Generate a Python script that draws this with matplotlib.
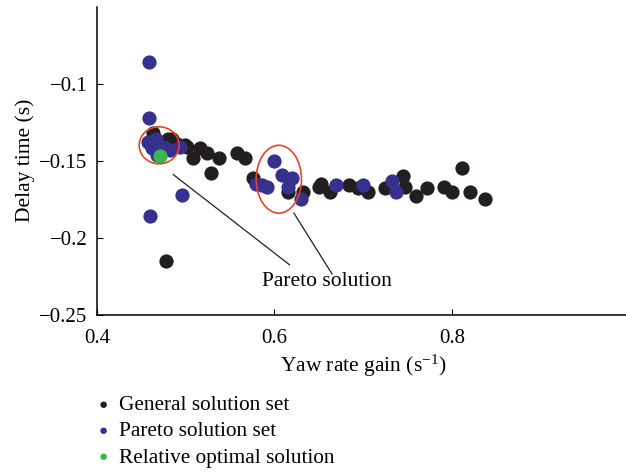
import matplotlib
matplotlib.use("Agg")
import matplotlib.pyplot as plt
from matplotlib.patches import Ellipse

plt.rcParams['font.family'] = ['Liberation Serif', 'DejaVu Serif']
plt.rcParams['mathtext.default'] = 'regular'

# general solution set
gen_x = [0.463, 0.480, 0.485, 0.499, 0.502, 0.508, 0.516, 0.524, 0.537, 0.528,
         0.558, 0.567, 0.478, 0.576, 0.615, 0.632, 0.653, 0.650, 0.663, 0.684,
         0.694, 0.706, 0.725, 0.745, 0.747, 0.760, 0.772, 0.791, 0.800, 0.811,
         0.821, 0.838, 0.470, 0.490]
gen_y = [-0.132, -0.136, -0.136, -0.140, -0.141, -0.148, -0.142, -0.145, -0.148, -0.158,
         -0.145, -0.148, -0.215, -0.161, -0.170, -0.170, -0.165, -0.167, -0.170, -0.166,
         -0.168, -0.170, -0.168, -0.160, -0.167, -0.173, -0.168, -0.167, -0.170, -0.155,
         -0.170, -0.175, -0.138, -0.139]

# pareto solution set
par_x = [0.459, 0.459, 0.458, 0.466, 0.475, 0.482, 0.494, 0.468, 0.462, 0.496,
         0.460, 0.599, 0.609, 0.620, 0.579, 0.592, 0.586, 0.615, 0.630, 0.670,
         0.700, 0.733, 0.737]
par_y = [-0.086, -0.122, -0.138, -0.136, -0.141, -0.143, -0.141, -0.146, -0.142, -0.172,
         -0.186, -0.150, -0.159, -0.161, -0.165, -0.167, -0.166, -0.167, -0.175, -0.166,
         -0.166, -0.163, -0.170]

# relative optimal solution
opt_x = [0.471]
opt_y = [-0.147]

fig = plt.figure(figsize=(6.26, 4.72), dpi=100)
ax = fig.add_axes([0.155, 0.333, 0.85, 0.653])

ax.scatter(gen_x, gen_y, s=105, color='#231f20', linewidths=0, zorder=2)
ax.scatter(par_x, par_y, s=105, color='#36318f', linewidths=0, zorder=3)
ax.scatter(opt_x, opt_y, s=105, color='#3cb64a', linewidths=0, zorder=4)

ax.add_patch(Ellipse((0.470, -0.140), 0.045, 0.024, fill=False, edgecolor='#e8422c', lw=1.2, zorder=5))
ax.add_patch(Ellipse((0.605, -0.162), 0.051, 0.044, fill=False, edgecolor='#e8422c', lw=1.2, zorder=5))

ax.plot([0.486, 0.617], [-0.159, -0.2175], color='#231f20', lw=0.9)
ax.plot([0.622, 0.665], [-0.184, -0.2235], color='#231f20', lw=0.9)
ax.text(0.659, -0.2285, 'Pareto solution', ha='center', va='center', fontsize=15.5)

ax.set_xlim(0.4, 1.0)
ax.set_ylim(-0.25, -0.05)
ax.set_xticks([0.4, 0.6, 0.8, 1.0])
ax.set_xticklabels(['0.4', '0.6', '0.8', '1'])
ax.set_yticks([-0.25, -0.2, -0.15, -0.1])
ax.set_yticklabels(['\u22120.25', '\u22120.2', '\u22120.15', '\u22120.1'])
ax.tick_params(direction='in', labelsize=15, length=4, width=0.8)
ax.tick_params(axis='y', pad=7)
ax.tick_params(axis='x', pad=10)
for s in ['left', 'bottom']:
    ax.spines[s].set_linewidth(1.1)
ax.spines['top'].set_visible(False)
ax.spines['right'].set_visible(False)
ax.set_xlabel('Yaw rate gain (s$^{-1}$)', fontsize=15.5, labelpad=4)
ax.set_ylabel('Delay time (s)', fontsize=15.5, labelpad=3)

# legend
leg_y = [405, 432, 458]
leg_c = ['#231f20', '#36318f', '#3cb64a']
leg_t = ['General solution set', 'Pareto solution set', 'Relative optimal solution']
for yy, cc, tt in zip(leg_y, leg_c, leg_t):
    fig.text(103 / 626, 1 - yy / 472, '\u25cf', color=cc, fontsize=11, ha='center', va='center')
    fig.text(119 / 626, 1 - yy / 472, tt, fontsize=15.3, ha='left', va='center')

fig.savefig('out.png')
